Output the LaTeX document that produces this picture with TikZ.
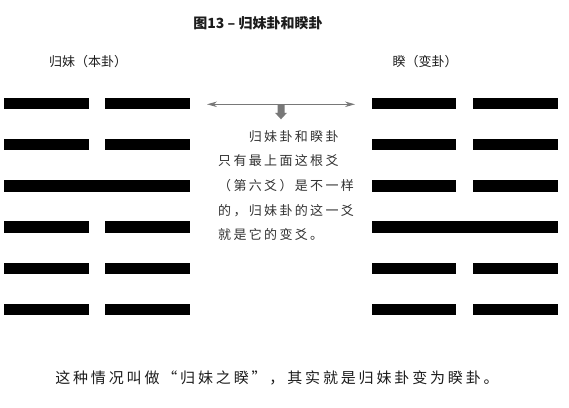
\documentclass[tikz,border=0pt]{standalone}
\usepackage{fontspec}
\setmainfont{Noto Sans CJK SC}
\newfontfamily\cjkbody[LetterSpace=18]{Noto Sans CJK SC}
\newfontfamily\cjkwide[LetterSpace=19]{Noto Sans CJK SC}
\usetikzlibrary{positioning,arrows.meta}
\definecolor{ink}{RGB}{28,28,28}
\definecolor{bodyink}{RGB}{50,50,50}
\definecolor{arrowgray}{RGB}{120,120,120}
\tikzset{
  figtitle/.style={font=\bfseries\fontsize{14}{16}\selectfont, text=ink, inner sep=0pt},
  guaname/.style={font=\fontsize{13}{15}\selectfont, text=ink, inner sep=0pt},
  note/.style={font=\cjkbody\fontsize{13}{24.7}\selectfont, text=bodyink, align=left,
    inner sep=0pt},
  summary/.style={font=\cjkwide\fontsize{15}{17}\selectfont, text=ink, inner sep=0pt},
  yao/.style={draw=black, line width=11.5pt, line cap=butt},
  span/.style={draw=arrowgray, line width=0.8pt,
    {Stealth[length=10pt,width=5.5pt]}-{Stealth[length=10pt,width=5.5pt]}},
  pointer/.style={fill=arrowgray},
}

\begin{document}
\begin{tikzpicture}[x=1pt, y=-1pt]
  \useasboundingbox (0,0) rectangle (569,407);
  \node[figtitle] (title) at (258,23) {图13 – 归妹卦和睽卦};
  \node[guaname] (ben) at (88,62) {归妹（本卦）};
  \node[guaname] (bian) at (425,62) {睽（变卦）};
  % six lines of each hexagram, top to bottom (1 = solid, 0 = broken)
  \foreach \lp/\rp [count=\i from 0] in {0/0,0/0,1/0,0/1,0/0,0/0}{
    \pgfmathsetmacro{\yy}{103.5+41.2*\i}
    \ifnum\lp=1 \draw[yao] (4,\yy) -- (190,\yy);
    \else \draw[yao] (4,\yy) -- (89,\yy) (105,\yy) -- (190,\yy); \fi
    \ifnum\rp=1 \draw[yao] (372,\yy) -- (558,\yy);
    \else \draw[yao] (372,\yy) -- (456,\yy) (473,\yy) -- (558,\yy); \fi
  }
  \coordinate (sl) at (207,104.3);
  \coordinate (sr) at (355,104.3);
  \draw[span] (sl) -- (sr);
  \coordinate (dtop) at (281,104.3);
  \fill[pointer] (dtop) ++(-3.5,0) -- ++(0,8.5) -- ++(-2.5,0) -- ++(6,6.5)
    -- ++(6,-6.5) -- ++(-2.5,0) -- ++(0,-8.5) -- cycle;
  \node[note, anchor=north west] (expl) at (218,130)
    {　　归妹卦和睽卦\\只有最上面这根爻\\（第六爻）是不一样\\的，归妹卦的这一爻\\就是它的变爻。};
  \node[summary] (concl) at (277,378)
    {这种情况叫做“归妹之睽”，其实就是归妹卦变为睽卦。};
\end{tikzpicture}
\end{document}
